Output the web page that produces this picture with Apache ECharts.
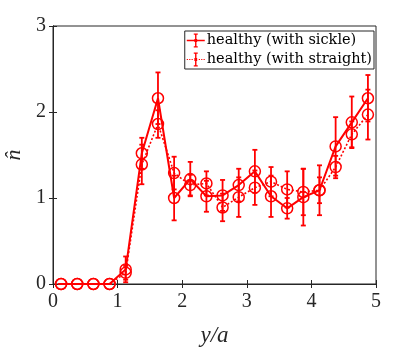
<!DOCTYPE html>
<html>
<head>
<meta charset="utf-8">
<script src="https://cdn.jsdelivr.net/npm/echarts@6/dist/echarts.min.js"></script>
<style>
  html, body { margin: 0; padding: 0; background: #fff; }
  #main { width: 415px; height: 348px; }
</style>
</head>
<body>
<div id="main"></div>
<script>
// positions along y/a (bin centres)
const xPos = [0.125, 0.375, 0.625, 0.875, 1.125, 1.375, 1.625, 1.875, 2.125, 2.375,
  2.625, 2.875, 3.125, 3.375, 3.625, 3.875, 4.125, 4.375, 4.625, 4.875]

// healthy (with sickle) - solid
const sickleVal = [0, 0, 0, 0, 0.17, 1.52, 2.16, 1.00, 1.22, 1.02,
  1.03, 1.15, 1.31, 1.02, 0.88, 1.01, 1.09, 1.60, 1.88, 2.16]
const sickleErr = [0, 0, 0, 0, 0.15, 0.18, 0.30, 0.26, 0.20, 0.18,
  0.18, 0.19, 0.25, 0.24, 0.12, 0.33, 0.29, 0.34, 0.30, 0.27]

// healthy (with straight) - dotted
const straightVal = [0, 0, 0, 0, 0.13, 1.39, 1.86, 1.29, 1.15, 1.17,
  0.89, 1.01, 1.12, 1.19, 1.10, 1.07, 1.09, 1.36, 1.74, 1.97]
const straightErr = [0, 0, 0, 0, 0.08, 0.23, 0.16, 0.19, 0.12, 0.14,
  0.16, 0.23, 0.20, 0.17, 0.21, 0.27, 0.15, 0.13, 0.15, 0.29]

const red = '#ff0000'
const axisCol = '#262626'
const serif = 'Liberation Serif'

const pts = (vals) => xPos.map((x, i) => [x, vals[i]])
const bars = (vals, errs) => xPos.map((x, i) => [x, vals[i] - errs[i], vals[i] + errs[i]])

function errRender (params, api) {
  const x = api.value(0)
  const lo = api.coord([x, api.value(1)])
  const hi = api.coord([x, api.value(2)])
  const w = 2.5
  const style = { stroke: red, lineWidth: 1.8 }
  return {
    type: 'group',
    children: [
      { type: 'line', shape: { x1: lo[0], y1: lo[1], x2: hi[0], y2: hi[1] }, style },
      { type: 'line', shape: { x1: lo[0] - w, y1: lo[1], x2: lo[0] + w, y2: lo[1] }, style },
      { type: 'line', shape: { x1: hi[0] - w, y1: hi[1], x2: hi[0] + w, y2: hi[1] }, style }
    ]
  }
}

const chart = echarts.init(document.getElementById('main'))

// matlab style errorbar legend glyphs (18 x 14 box)
const barPart = 'M8.3,0 H9.7 V14 H8.3 Z M7,0 H11 V1.2 H7 Z M7,12.8 H11 V14 H7 Z M7.6,5.6 H10.4 V8.4 H7.6 Z'
const iconSolid = 'path://M0,6.2 H18 V7.8 H0 Z ' + barPart
const iconDotted = 'path://M0,6.4 H1.2 V7.6 H0 Z M2.4,6.4 H3.6 V7.6 H2.4 Z M4.8,6.4 H6 V7.6 H4.8 Z ' +
  'M12,6.4 H13.2 V7.6 H12 Z M14.4,6.4 H15.6 V7.6 H14.4 Z M16.8,6.4 H18 V7.6 H16.8 Z ' + barPart

const option = {
  animation: false,
  backgroundColor: '#fff',
  grid: {
    left: 53,
    right: 39,
    top: 26,
    bottom: 64,
    outerBoundsMode: 'none',
    containLabel: false,
    show: true,
    borderColor: axisCol,
    borderWidth: 1
  },
  legend: {
    right: 41,
    top: 31,
    orient: 'vertical',
    backgroundColor: '#fff',
    borderColor: axisCol,
    borderWidth: 1,
    borderRadius: 0,
    padding: [2, 2, 2, 2],
    itemGap: 4,
    itemWidth: 18,
    itemHeight: 14,
    textStyle: { fontFamily: 'DejaVu Serif', fontSize: 14.5, color: '#000', padding: [0, 0, 0, -3] },
    data: [
      { name: 'healthy (with sickle)', icon: iconSolid, itemStyle: { color: red, borderWidth: 0 } },
      { name: 'healthy (with straight)', icon: iconDotted, itemStyle: { color: red, borderWidth: 0 } }
    ]
  },
  xAxis: [
    {
      type: 'value',
      min: 0,
      max: 5,
      interval: 1,
      name: 'y/a',
      nameLocation: 'middle',
      nameGap: 40,
      nameTextStyle: { fontFamily: serif, fontStyle: 'italic', fontSize: 23, color: axisCol },
      axisLine: { lineStyle: { color: axisCol } },
      axisTick: { inside: true, length: 4, lineStyle: { color: axisCol } },
      axisLabel: { fontFamily: serif, fontSize: 20, color: axisCol, margin: 8 },
      splitLine: { show: false }
    },
    {
      type: 'value',
      position: 'top',
      min: 0,
      max: 5,
      interval: 1,
      axisLine: { lineStyle: { color: axisCol } },
      axisTick: { inside: true, length: 4, lineStyle: { color: axisCol } },
      axisLabel: { show: false },
      splitLine: { show: false }
    }
  ],
  yAxis: [
    {
      type: 'value',
      min: 0,
      max: 3,
      interval: 1,
      name: 'n\u0302',
      nameLocation: 'middle',
      nameRotate: 90,
      nameGap: 25,
      nameTextStyle: { fontFamily: serif, fontStyle: 'italic', fontSize: 22, color: axisCol },
      axisLine: { show: true, lineStyle: { color: axisCol } },
      axisTick: { show: true, inside: true, length: 4, lineStyle: { color: axisCol } },
      axisLabel: { fontFamily: serif, fontSize: 20, color: axisCol, margin: 7 },
      splitLine: { show: false }
    },
    {
      type: 'value',
      position: 'right',
      min: 0,
      max: 3,
      interval: 1,
      axisLine: { show: true, lineStyle: { color: axisCol } },
      axisTick: { show: true, inside: true, length: 4, lineStyle: { color: axisCol } },
      axisLabel: { show: false },
      splitLine: { show: false }
    }
  ],
  series: [
    {
      name: 'healthy (with sickle)',
      type: 'line',
      data: pts(sickleVal),
      symbol: 'circle',
      symbolSize: 11,
      lineStyle: { color: red, width: 2, type: 'solid' },
      itemStyle: { color: 'none', borderColor: red, borderWidth: 1.5 },
      z: 3
    },
    {
      name: 'healthy (with straight)',
      type: 'line',
      data: pts(straightVal),
      symbol: 'circle',
      symbolSize: 11,
      lineStyle: { color: red, width: 1.6, type: [2, 2] },
      itemStyle: { color: 'none', borderColor: red, borderWidth: 1.5 },
      z: 3
    },
    {
      name: 'healthy (with sickle)',
      type: 'custom',
      renderItem: errRender,
      encode: { x: 0, y: [1, 2] },
      data: bars(sickleVal, sickleErr),
      z: 2
    },
    {
      name: 'healthy (with straight)',
      type: 'custom',
      renderItem: errRender,
      encode: { x: 0, y: [1, 2] },
      data: bars(straightVal, straightErr),
      z: 2
    }
  ]
}

chart.setOption(option)
</script>
</body>
</html>
